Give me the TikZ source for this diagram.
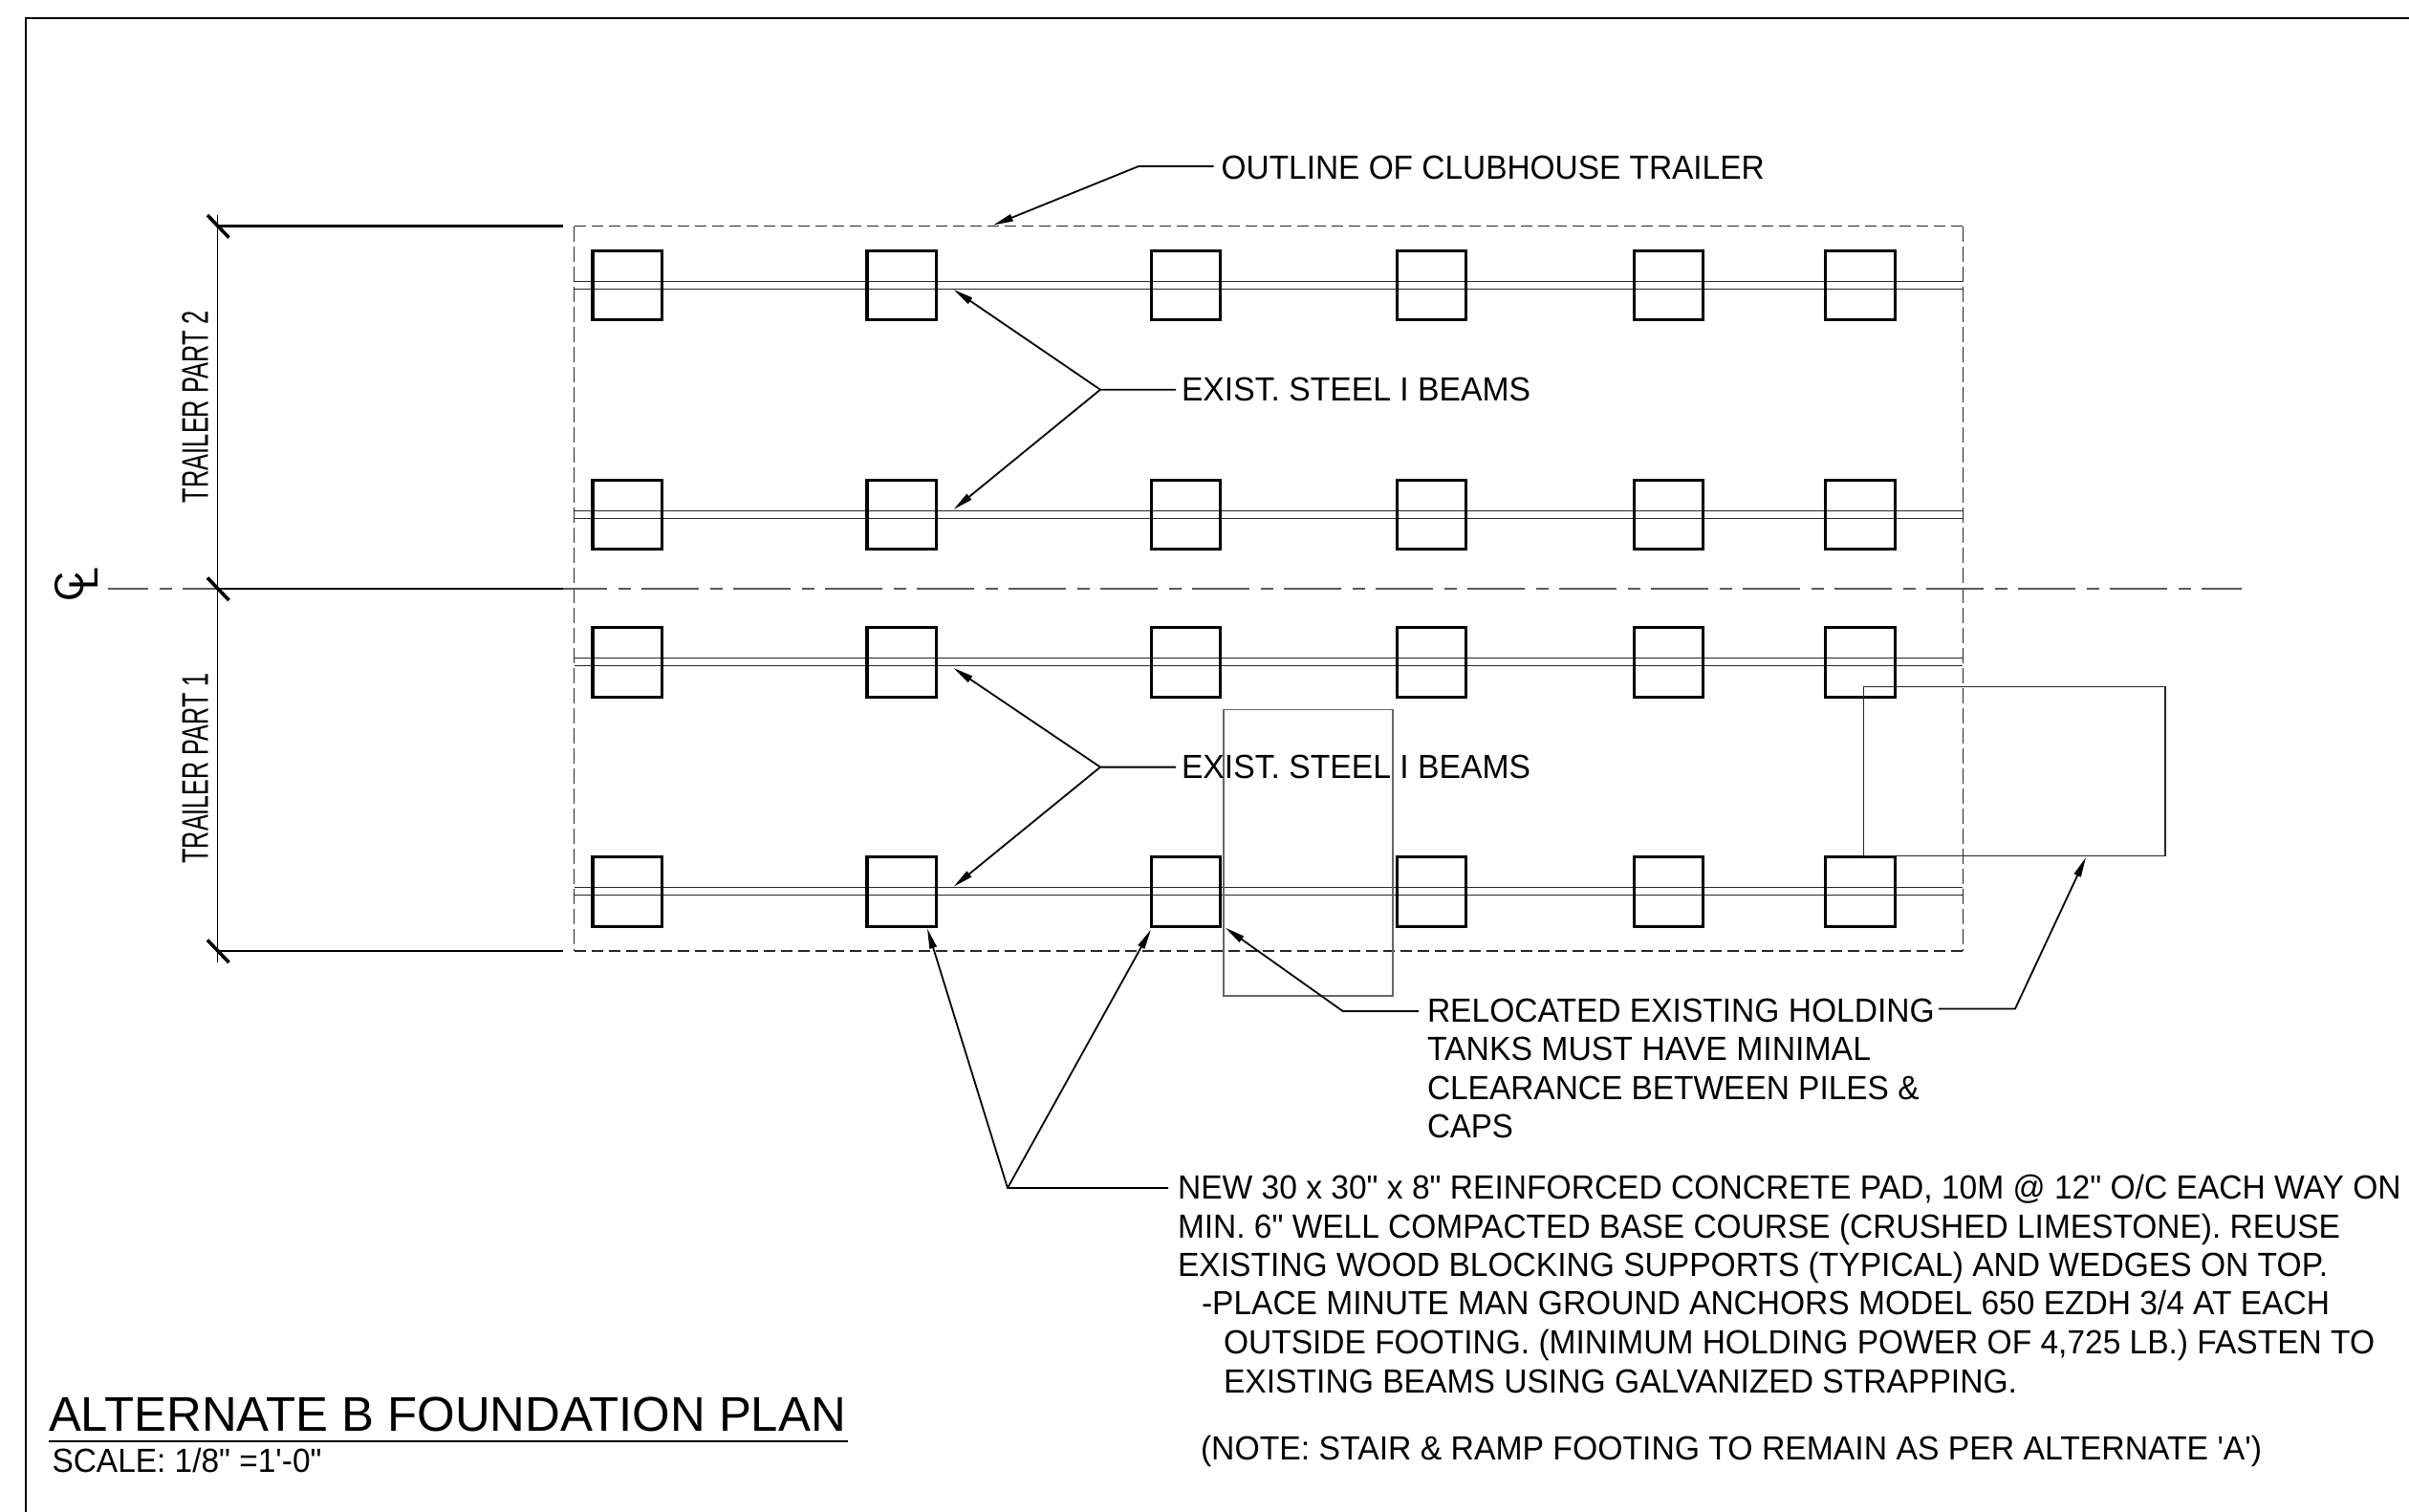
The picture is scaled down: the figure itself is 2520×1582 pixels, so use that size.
\documentclass[tikz,border=0pt]{standalone}
\usepackage{fontspec}
\usepackage{graphicx}
\usetikzlibrary{arrows.meta}
\newfontfamily\labfont{Liberation Sans}
\newcommand{\fitw}[2]{\resizebox{#1bp}{\height}{#2}}
\tikzset{
  x=1bp,y=-1bp,
  padbox/.style={draw=black,line width=3.2bp,minimum width=72.7bp,minimum height=72.7bp,inner sep=0pt},
  beamline/.style={draw=black!85,line width=1.3bp},
  outlinedash/.style={draw=black!85,line width=1.25bp},
  tankbox/.style={draw=black!60,line width=1.2bp},
  tankboxdark/.style={draw=black!85,line width=1.1bp},
  dimline/.style={draw=black,line width=1.9bp},
  extline/.style={draw=black,line width=2.6bp},
  tickline/.style={draw=black,line width=3.6bp},
  centerdash/.style={draw=black!65,line width=1.3bp,dash pattern=on 60bp off 12bp on 13bp off 11bp,dash phase=17.8bp},
  leader/.style={draw=black,line width=1.8bp,{Triangle[length=21bp,width=7.5bp]}-},
  lab/.style={inner sep=0pt,outer sep=0pt,anchor=base west,text=black,font=\labfont\fontsize{35bp}{40bp}\selectfont},
  titlelab/.style={lab,font=\labfont\fontsize{51bp}{56bp}\selectfont},
  sidelab/.style={inner sep=0pt,outer sep=0pt,anchor=base,rotate=90,text=black,font=\labfont\fontsize{39bp}{44bp}\selectfont},
}
\begin{document}
\begin{tikzpicture}
\useasboundingbox (0,0) rectangle (2520,1582);
% sheet frame
\coordinate (fbl) at (27,1582);
\coordinate (ftl) at (27,19);
\coordinate (ftr) at (2520,19);
\draw[black,line width=2.8bp] (fbl) -- (ftl) -- (ftr);

% trailer outline
\coordinate (otl) at (600.5,236.6);
\coordinate (otr) at (2053.4,236.6);
\coordinate (obl) at (600.5,995);
\coordinate (obr) at (2053.4,995);
\draw[outlinedash,dash pattern=on 12bp off 6bp] (otl) -- (otr);
\draw[outlinedash,dash pattern=on 12bp off 6bp] (obl) -- (obr);
\draw[outlinedash,dash pattern=on 16bp off 5bp] (otl) -- (obl);
\draw[outlinedash,dash pattern=on 16bp off 5bp] (otr) -- (obr);

% beams
\foreach \n/\ya/\yb in {a/294.7/302.5,b/534.8/542.4,c/688.7/696.8,d/928.7/936.3}{
  \coordinate (\n l1) at (600.5,\ya);
  \coordinate (\n r1) at (2053.4,\ya);
  \coordinate (\n l2) at (600.5,\yb);
  \coordinate (\n r2) at (2053.4,\yb);
  \draw[beamline] (\n l1) -- (\n r1);
  \draw[beamline] (\n l2) -- (\n r2);
}

% pads
\foreach \r/\y in {a/298.5,b/538.5,c/693,d/933}{
  \foreach \c/\x in {1/656.3,2/943.3,3/1240.5,4/1497.5,5/1745.5,6/1946}{
    \node[padbox] (p\r\c) at (\x,\y) {};
  }
}

% centre line
\coordinate (cls) at (112.5,616);
\coordinate (cle) at (2345,616);
\draw[centerdash] (cls) -- (cle);
\node[inner sep=0pt,outer sep=0pt,anchor=base west,rotate=90,text=black,font=\labfont\fontsize{43bp}{50bp}\selectfont] (clsym) at (87,629) {\makebox[12bp][l]{C}\raisebox{-15.7bp}{L}};

% dimensions
\coordinate (dt) at (227.5,236.6);
\coordinate (dm) at (227.5,616);
\coordinate (db) at (227.5,995);
\coordinate (dtop) at (227.5,225);
\coordinate (dbot) at (227.5,1007);
\coordinate (et) at (589,236.6);
\coordinate (em) at (589,616);
\coordinate (eb) at (589,995);
\draw[dimline] (dtop) -- (dbot);
\draw[extline] (dt) -- (et);
\draw[extline] (dm) -- (em);
\draw[extline] (db) -- (eb);
\foreach \n/\y in {t/236.6,m/616,b/995}{
  \coordinate (ta\n) at (217,\y-11.5);
  \coordinate (tb\n) at (239.5,\y+12);
  \draw[tickline] (ta\n) -- (tb\n);
}
\node[sidelab] (part2) at (217.5,425.5) {\fitw{201}{TRAILER PART 2}};
\node[sidelab] (part1) at (217.5,804) {\fitw{199}{TRAILER PART 1}};

% holding tanks
\coordinate (t1a) at (1280,742.7);
\coordinate (t1b) at (1457,1042);
\coordinate (t2a) at (1949.7,718.5);
\coordinate (t2b) at (2265,895.4);
\draw[tankbox] (t1a) rectangle (t1b);
\draw[tankboxdark] (t2a) rectangle (t2b);

% labels
\node[lab] (outl) at (1277.7,187.5) {\fitw{568}{OUTLINE OF CLUBHOUSE TRAILER}};
\node[lab] (ib1) at (1236,419.5) {\fitw{365}{EXIST. STEEL I BEAMS}};
\node[lab] (ib2) at (1236,814.5) {\fitw{365}{EXIST. STEEL I BEAMS}};
\node[lab] (rel1) at (1493,1069) {\fitw{530.7}{RELOCATED EXISTING HOLDING}};
\node[lab] (rel2) at (1493,1109.5) {\fitw{464}{TANKS MUST HAVE MINIMAL}};
\node[lab] (rel3) at (1493,1150) {\fitw{514.6}{CLEARANCE BETWEEN PILES \&}};
\node[lab] (rel4) at (1493,1190.5) {\fitw{90}{CAPS}};
\node[lab] (new1) at (1232,1254.5) {\fitw{1279.6}{NEW 30 x 30" x 8" REINFORCED CONCRETE PAD, 10M @ 12" O/C EACH WAY ON}};
\node[lab] (new2) at (1232,1295) {\fitw{1216}{MIN. 6" WELL COMPACTED BASE COURSE (CRUSHED LIMESTONE). REUSE}};
\node[lab] (new3) at (1232,1335.3) {\fitw{1203}{EXISTING WOOD BLOCKING SUPPORTS (TYPICAL) AND WEDGES ON TOP.}};
\node[lab] (new4) at (1257,1375.5) {\fitw{1180}{-PLACE MINUTE MAN GROUND ANCHORS MODEL 650 EZDH 3/4 AT EACH}};
\node[lab] (new5) at (1280,1416) {\fitw{1204}{OUTSIDE FOOTING. (MINIMUM HOLDING POWER OF 4,725 LB.) FASTEN TO}};
\node[lab] (new6) at (1280,1457) {\fitw{830}{EXISTING BEAMS USING GALVANIZED STRAPPING.}};
\node[lab] (note) at (1256,1527.5) {\fitw{1110}{(NOTE: STAIR \& RAMP FOOTING TO REMAIN AS PER ALTERNATE 'A')}};
\node[titlelab] (title) at (51,1497.5) {\fitw{834}{ALTERNATE B FOUNDATION PLAN}};
\node[lab] (scale) at (54.5,1540.5) {\fitw{282}{SCALE: 1/8" =1'-0"}};
\coordinate (ula) at (51,1508);
\coordinate (ulb) at (887,1508);
\draw[black,line width=2.6bp] (ula) -- (ulb);

% leaders
\coordinate (outip) at (1039,235.6);
\coordinate (ouel) at (1191,174);
\draw[leader] (outip) -- (ouel) -- ([xshift=-8bp]ouel -| outl.west);

\coordinate (i1a) at (997.6,303);
\coordinate (i1b) at (997.6,533);
\coordinate (i1e) at (1151,407.7);
\draw[leader] (i1a) -- (i1e) -- ([xshift=-6bp]i1e -| ib1.west);
\draw[leader] (i1b) -- (i1e);
\coordinate (i2a) at (997.6,699);
\coordinate (i2b) at (997.6,927.7);
\coordinate (i2e) at (1151,802.6);
\draw[leader] (i2a) -- (i2e) -- ([xshift=-6bp]i2e -| ib2.west);
\draw[leader] (i2b) -- (i2e);

\coordinate (rlt) at (1281.7,970.6);
\coordinate (rle) at (1404.7,1058);
\draw[leader] (rlt) -- (rle) -- ([xshift=-9bp]rle -| rel1.west);
\coordinate (rrt) at (2182,897);
\coordinate (rre) at (2108,1055.4);
\draw[leader] (rrt) -- (rre) -- ([xshift=4bp]rre -| rel1.east);

\coordinate (npa) at (970,971.6);
\coordinate (npb) at (1204,972.6);
\coordinate (npe) at (1054,1243);
\draw[leader] (npa) -- (npe) -- ([xshift=-10bp]npe -| new1.west);
\draw[leader] (npb) -- (npe);
\end{tikzpicture}
\end{document}
